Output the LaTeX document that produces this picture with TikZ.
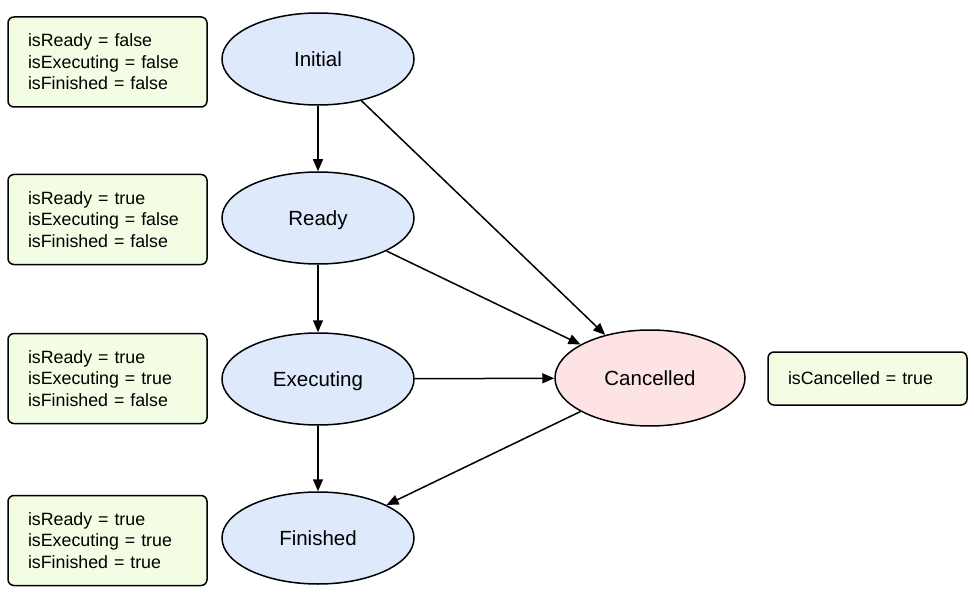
\documentclass[tikz,border=0pt]{standalone}
\usepackage{fontspec}
\setmainfont{Liberation Sans}
\usetikzlibrary{shapes.geometric,arrows.meta}
\definecolor{stblue}{HTML}{DEE9FB}
\definecolor{stpink}{HTML}{FDE3E3}
\definecolor{stgreen}{HTML}{F3FDE3}
\begin{document}
\begin{tikzpicture}[x=1pt,y=-1pt,
  state/.style={ellipse,draw=black,line width=1.5pt,fill=stblue,minimum width=192pt,minimum height=92pt,inner sep=0pt,text height=14.7pt,text depth=0pt,font=\fontsize{20.5}{24}\selectfont},
  cstate/.style={state,fill=stpink,minimum width=190pt,minimum height=96pt},
  propbox/.style={rectangle,rounded corners=6pt,draw=black,line width=1.5pt,fill=stgreen,minimum width=199pt,minimum height=90pt,inner xsep=20pt,inner ysep=0pt,text width=159pt,align=left,font=\fontsize{17.8}{21.5}\selectfont},
  trans/.style={draw=black,line width=1.5pt,-{Triangle[length=12pt,width=10pt]}}]
\useasboundingbox (0,0) rectangle (974,596);
\node[state] (init) at (318,59) {Initial};
\node[state] (ready) at (318,218) {Ready};
\node[state] (exec) at (318,379) {Executing};
\node[state] (fin) at (318,538) {Finished};
\node[cstate] (canc) at (650,378) {Cancelled};
\node[propbox] (b1) at (107.5,62) {isReady = false\\isExecuting = false\\isFinished = false};
\node[propbox] (b2) at (107.5,219.5) {isReady = true\\isExecuting = false\\isFinished = false};
\node[propbox] (b3) at (107.5,378.5) {isReady = true\\isExecuting = true\\isFinished = false};
\node[propbox] (b4) at (107.5,540.5) {isReady = true\\isExecuting = true\\isFinished = true};
\node[propbox,minimum height=53pt] (b5) at (867.5,378.5) {isCancelled = true};
\draw[trans] (init) -- (ready);
\draw[trans] (ready) -- (exec);
\draw[trans] (exec) -- (fin);
\draw[trans] (init) -- (canc);
\draw[trans] (ready) -- (canc);
\draw[trans] (exec) -- (canc);
\draw[trans] (canc) -- (fin);
\end{tikzpicture}
\end{document}
